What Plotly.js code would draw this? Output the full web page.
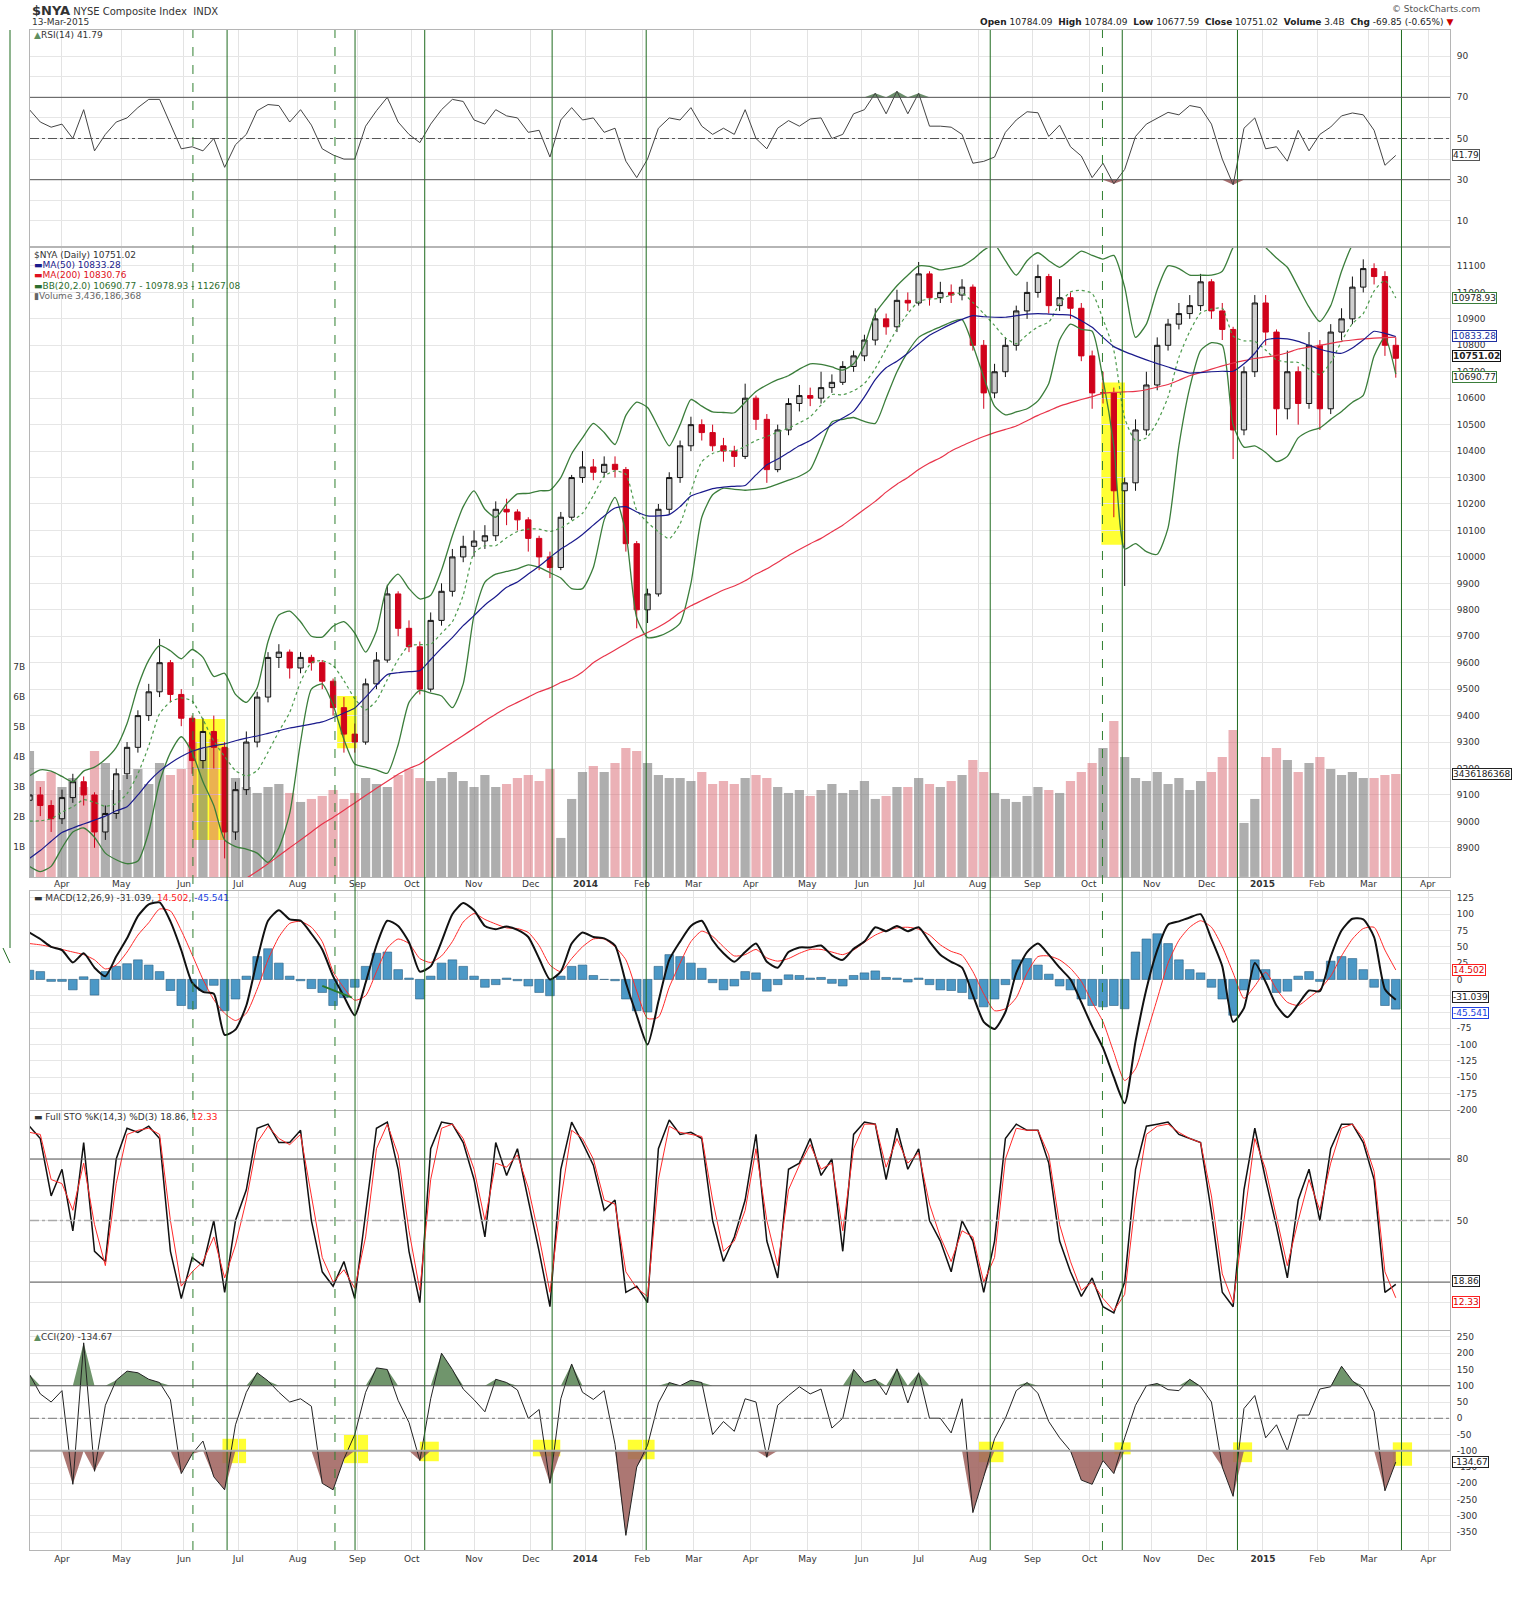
<!DOCTYPE html>
<html><head><meta charset="utf-8">
<script src="https://cdn.plot.ly/plotly-3.0.1.min.js"></script>
<style>html,body{margin:0;padding:0;background:#fff}#chart{width:1532px;height:1600px}</style>
</head><body><div id="chart"></div>
<script>
// ---------- DATA (one sample every 4 sessions; day 0 = 1 Apr 2013) ----------
const START_DAY = -12, STEP = 4;
const monthStarts = [0,22,45,65,87,109,129,152,173,193,214,233,254,275,295,316,338,358,379,402,422,443,463,482,504];
const monthLabels = ['Apr','May','Jun','Jul','Aug','Sep','Oct','Nov','Dec','<b>2014</b>','Feb','Mar','Apr','May','Jun','Jul','Aug','Sep','Oct','Nov','Dec','<b>2015</b>','Feb','Mar','Apr'];
const firstOpen = 9080;
const close = [
9100,9060,9010,9090,9150,9100,8960,9030,9180,9280,
9400,9490,9600,9480,9390,9230,9340,9280,8960,9120,
9300,9470,9620,9640,9580,9620,9600,9530,9430,9330,
9300,9520,9610,9860,9730,9660,9500,9760,9870,10000,
10040,10060,10080,10180,10170,10140,10070,10000,9960,10150,
10300,10340,10320,10350,10330,10050,9800,9860,10180,10300,
10420,10500,10470,10420,10400,10380,10600,10520,10330,10480,
10580,10610,10600,10640,10660,10720,10760,10820,10900,10870,
10970,10960,11070,10980,11000,10990,11020,10800,10620,10700,
10800,10930,11000,11060,10950,10980,10940,10760,10620,10620,
10250,10280,10480,10650,10800,10880,10920,10950,11040,10930,
10860,10480,10700,10960,10850,10560,10700,10580,10800,10560,
10850,10900,11020,11090,11060,10800,10751.02];
const high = [
9150,9130,9080,9120,9180,9170,9110,9060,9200,9300,
9420,9520,9690,9610,9500,9400,9390,9400,9300,9150,
9340,9490,9640,9670,9650,9640,9630,9610,9540,9470,
9370,9540,9640,9895,9870,9760,9680,9790,9900,10030,
10080,10100,10120,10210,10220,10180,10150,10080,10020,10170,
10310,10400,10370,10380,10380,10340,10060,9880,10200,10320,
10440,10530,10520,10500,10450,10420,10655,10610,10540,10500,
10600,10650,10640,10700,10690,10740,10780,10840,10940,10920,
11010,11000,11115,11080,11040,11030,11050,11030,10820,10730,
10830,10950,11040,11105,11070,11050,11000,10960,10780,10700,
10640,10300,10520,10700,10830,10900,10960,10990,11070,11050,
10960,10870,10720,10990,10990,10860,10780,10720,10850,10820,
10880,10940,11060,11125,11110,11080,10830];
const low = [
9040,9020,8960,8990,9070,9060,8900,8930,9010,9160,
9260,9380,9470,9450,9360,9180,9200,9200,8860,8930,
9100,9280,9450,9580,9540,9560,9570,9500,9400,9260,
9260,9290,9500,9600,9700,9640,9480,9490,9740,9850,
9980,10000,10030,10060,10120,10100,10020,9950,9920,9950,
10140,10280,10290,10300,10300,10020,9730,9750,9850,10160,
10280,10400,10440,10400,10360,10340,10370,10480,10280,10320,
10460,10550,10570,10580,10620,10650,10700,10740,10800,10840,
10850,10930,10950,10950,10960,10960,10970,10780,10560,10600,
10680,10780,10900,10980,10920,10930,10900,10740,10560,10580,
10150,9890,10250,10460,10630,10780,10860,10900,10930,10900,
10820,10370,10460,10680,10800,10460,10520,10500,10560,10480,
10540,10820,10880,11000,11030,10760,10677.59];
const volumeB = [
4.2,3.2,3.5,3.0,3.3,3.0,4.2,3.8,2.9,3.4,
3.6,3.1,3.8,3.4,3.6,4.5,4.3,4.6,4.3,3.3,
3.0,2.8,3.0,3.1,2.8,2.5,2.6,2.7,2.9,2.6,
2.8,3.3,3.1,3.0,3.4,3.6,3.3,3.2,3.3,3.5,
3.2,3.0,3.4,3.0,3.1,3.3,3.4,3.2,3.6,1.3,
2.6,3.5,3.7,3.5,3.8,4.3,4.2,3.8,3.4,3.3,
3.3,3.2,3.5,3.1,3.2,3.1,3.3,3.4,3.3,3.0,
2.8,2.9,2.7,2.9,3.1,2.8,2.9,3.2,2.6,2.7,
3.0,3.0,3.3,3.1,3.0,3.2,3.4,3.9,3.5,2.8,
2.6,2.5,2.7,3.0,2.9,2.8,3.2,3.5,3.8,4.3,
5.2,4.0,3.3,3.2,3.5,3.1,3.3,2.9,3.2,3.5,
4.0,4.9,1.8,2.6,4.0,4.3,3.9,3.5,3.8,4.0,
3.6,3.4,3.5,3.3,3.3,3.4,3.436];
const ma50 = [
8860,8890,8925,8958,8975,8990,9005,9020,9040,9055,
9100,9150,9190,9220,9245,9265,9278,9286,9293,9305,
9315,9323,9333,9343,9353,9360,9368,9376,9392,9410,
9429,9470,9515,9555,9562,9566,9570,9612,9655,9695,
9740,9778,9818,9850,9885,9905,9935,9965,9998,10030,
10055,10085,10120,10155,10185,10190,10170,10155,10155,10160,
10190,10230,10245,10258,10264,10267,10270,10310,10348,10370,
10395,10420,10440,10470,10500,10525,10550,10605,10670,10715,
10740,10770,10805,10838,10860,10880,10898,10912,10908,10906,
10906,10912,10918,10920,10918,10916,10914,10893,10868,10830,
10795,10776,10760,10745,10731,10718,10705,10695,10697,10700,
10702,10702,10730,10770,10820,10826,10824,10815,10800,10785,
10775,10770,10790,10820,10853,10845,10833.28];
const ma200 = [
null,null,null,null,null,null,null,null,null,null,
null,null,null,null,null,null,null,null,null,8755,
8785,8812,8840,8870,8900,8930,8960,8990,9015,9042,
9070,9098,9125,9152,9178,9200,9217,9245,9272,9298,
9325,9352,9380,9405,9430,9450,9470,9490,9505,9525,
9540,9565,9600,9625,9648,9672,9695,9714,9735,9760,
9790,9815,9835,9855,9875,9890,9910,9935,9955,9980,
10005,10028,10050,10070,10095,10120,10150,10180,10210,10245,
10275,10300,10330,10355,10375,10400,10420,10438,10455,10470,
10482,10495,10515,10535,10552,10570,10583,10595,10606,10618,
10622,10624,10626,10632,10642,10652,10668,10685,10697,10710,
10722,10733,10742,10750,10756,10762,10772,10786,10793,10800,
10807,10815,10820,10824,10827,10829,10830.76];
const bbUpper = [
9172,9195,9190,9170,9150,9190,9205,9235,9280,9370,
9510,9610,9665,9645,9615,9650,9620,9548,9560,9480,
9450,9505,9680,9780,9795,9755,9700,9697,9738,9755,
9712,9640,9720,9890,9935,9880,9841,9855,9950,10080,
10190,10250,10180,10150,10200,10238,10240,10250,10252,10300,
10390,10450,10505,10470,10425,10535,10585,10565,10490,10420,
10500,10595,10570,10548,10546,10545,10585,10625,10650,10670,
10685,10710,10730,10728,10718,10706,10730,10800,10920,10975,
11025,11065,11100,11098,11085,11092,11100,11125,11160,11180,
11120,11065,11120,11150,11120,11095,11125,11156,11140,11126,
11140,11020,10830,10880,11010,11100,11090,11065,11065,11065,
11080,11170,11220,11210,11170,11130,11095,11020,10944,10890,
10950,11080,11180,11230,11250,11260,11267.08];
const bbMid = [
9001,9002,9010,9035,9055,9082,9072,9057,9067,9105,
9180,9285,9407,9452,9467,9455,9385,9304,9245,9192,
9172,9192,9262,9340,9412,9527,9600,9608,9589,9532,
9464,9422,9457,9536,9612,9665,9668,9670,9712,9755,
9855,10015,10042,10042,10072,10096,10105,10105,10096,10110,
10135,10165,10232,10305,10325,10312,10177,10130,10095,10069,
10125,10247,10360,10391,10403,10400,10418,10440,10455,10472,
10487,10507,10530,10574,10614,10613,10628,10656,10712,10787,
10862,10920,10965,10975,10977,10990,10998,10962,10920,10875,
10828,10806,10840,10870,10888,10957,11002,11008,10996,10899,
10780,10525,10440,10450,10510,10605,10755,10852,10922,10937,
10940,10835,10817,10815,10782,10745,10737,10735,10710,10689,
10735,10815,10882,10920,11005,11045,10978.93];
const bbLower = [
8830,8810,8830,8900,8960,8975,8940,8880,8855,8840,
8850,8960,9150,9260,9320,9260,9150,9060,8930,8905,
8895,8880,8845,8900,9030,9300,9500,9520,9440,9310,
9217,9205,9195,9182,9290,9450,9495,9485,9474,9430,
9520,9780,9905,9935,9945,9955,9970,9960,9940,9920,
9880,9880,9960,10140,10225,10090,9770,9695,9700,9718,
9750,9900,10150,10235,10260,10255,10252,10255,10261,10275,
10290,10305,10330,10420,10510,10520,10527,10512,10505,10600,
10700,10775,10830,10852,10870,10888,10897,10800,10680,10570,
10537,10548,10560,10590,10656,10820,10880,10860,10853,10672,
10420,10030,10050,10020,10010,10110,10420,10640,10780,10810,
10800,10500,10415,10420,10395,10360,10380,10450,10475,10488,
10520,10550,10585,10611,10760,10830,10690.77];
const rsi = [
64,58,55.5,57,50,64,44,52,58,60,
65,69,69,57,45,46,44,50,36,47,
52,63.5,66.5,66,58,64,56.5,45,42,40,
40,56,63.5,70,58,52,48,57,64,69,
68,59,57,64,61,60,53,54,41,59,
65,59,60,53,55,39,31,40,55,60,
59,65,56,52,55,52,64,50,45,55,
58.7,56,59.5,60,50,52,62,64,72,62,
73,62,72,56,56,55.5,52,38,38.9,41,
53,59,63,62.5,51,56.5,46,41.5,31,38,
28,35,51,57,60,62.7,61.5,66,65,57,
40,27.5,55,60,45,46,39,54,44,52,
55.6,61,62.4,61.5,54,37,41.79];
const macd = [
72,62,50,45,26,40,18,5,35,63,
97,115,118,89,45,-5,-19,-22,-85,-77,
-40,30,90,106,92,90,70,46,5,-26,
-55,-5,52,90,82,57,12,20,58,100,
117,106,82,77,81,76,65,32,0,12,
55,72,65,63,52,-5,-55,-100,-34,30,
58,82,90,60,40,27,42,55,27,18,
42,49,49,52,37,30,47,58,80,74,
82,74,80,58,38,27,18,-24,-65,-76,
-50,10,42,55,38,18,0,-35,-72,-105,
-150,-190,-95,-15,45,84,89,95,100,62,
20,-65,-44,25,-4,-40,-58,-38,-17,-18,
35,75,93,92,65,-15,-31.039];
const macdSignal = [
55,53,50,46,42,38,30,16,22,42,
68,87,108,105,75,38,0,-31,-52,-63,
-52,-15,30,65,86,89,80,58,12,-13,
-32,-25,12,48,62,55,32,26,36,58,
88,101,92,85,79,78,72,52,22,12,
32,50,62,62,50,30,-18,-60,-58,-12,
25,58,74,66,50,36,38,46,33,28,
32,40,46,46,42,38,45,57,68,75,
79,80,77,68,53,43,37,12,-22,-48,
-45,-28,10,35,36,30,17,-3,-35,-65,
-112,-155,-137,-85,-30,25,60,80,90,80,
50,10,-29,-10,11,-15,-35,-40,-28,-15,
5,36,62,78,80,45,14.502];
const macdHist = [
14,12,-3,-3,-16,4,-24,12,20,24,
30,22,12,-17,-40,-45,-17,-9,-48,-30,
5,35,47,25,5,-2,-14,-20,-40,-28,
-12,20,40,42,15,2,-30,5,25,30,
20,5,-12,-8,2,-2,-10,-20,-25,5,
20,22,6,0,-2,-30,-48,-50,20,38,
35,25,17,-5,-16,-10,12,10,-18,-8,
7,6,2,3,-6,-10,6,10,13,3,
2,-4,2,-8,-16,-17,-20,-30,-42,-30,
-8,30,32,22,8,-10,-16,-30,-40,-42,
-40,-45,42,62,70,55,30,15,10,-12,
-30,-55,-16,30,15,-20,-18,5,12,-3,
28,35,32,15,-12,-40,-45.541];
const stoK = [
96,90,62,75,45,88,35,30,80,95,
93,96,90,35,12,32,28,50,15,50,
65,95,97,88,88,94,50,25,18,30,
12,55,95,98,75,35,10,85,98,97,
88,70,42,88,72,85,60,35,8,75,
98,88,77,55,60,15,18,10,85,99,
92,93,90,50,30,42,60,92,40,22,
75,78,90,72,80,35,92,98,97,70,
95,75,85,50,40,25,50,40,15,40,
90,97,94,94,78,40,25,13,22,8,
5,20,75,96,97,98,92,90,88,54,
15,8,65,95,70,47,22,60,75,50,
85,97,97,88,70,15,18.86];
const stoD = [
93,92,70,68,55,78,48,28,68,92,
94,95,92,50,18,25,30,42,22,38,
60,88,96,90,87,92,62,32,20,26,
17,42,85,97,82,45,16,70,95,97,
90,75,50,78,76,82,66,42,15,60,
94,90,80,60,58,25,17,13,70,96,
93,92,91,60,35,40,55,85,50,28,
65,77,87,75,78,45,85,97,97,76,
90,78,83,58,42,30,45,42,20,32,
80,95,94,94,82,48,30,16,20,12,
6,14,60,92,96,97,93,90,88,62,
24,10,50,90,75,52,28,50,70,55,
78,95,97,90,74,25,12.33];
const cci = [
135,75,50,85,-203,232,-163,40,117,145,
140,120,110,57,-170,-110,-70,-180,-220,-20,
80,140,115,80,50,60,37,-200,-220,-125,
-50,80,155,150,55,-13,-130,60,200,150,
90,57,20,120,110,87,0,27,-200,60,
167,80,58,85,-80,-360,-150,-83,47,110,
100,117,110,-50,-10,-40,60,50,-120,40,
70,97,75,90,-30,0,150,110,120,72,
152,47,140,0,0,-45,60,-290,-180,-63,
0,85,110,77,-10,-60,-100,-190,-203,-130,
-170,-60,40,100,107,88,85,120,97,50,
-150,-240,30,70,-60,-20,-100,10,10,90,
97,160,115,90,20,-223,-134.67];
// marked sessions (green verticals) and highlight boxes [day0, day1, low, high]
const solidMarks = [60.9,108.1,133.8,180.8,215.5,342.4,391.1,433.6,494.1];
const dashedMarks = [48.3,100.7,383.8];
const priceBoxes = [[48.3,60.2,8930,9387],[101.5,108.7,9277,9474],[383.4,392.1,10046,10659]];
const cciBoxes = [[59.2,67.9,-138,-63],[104,112.9,-138,-51],[132,139,-132,-72],[173.7,183.8,-117,-66],[208.7,218.6,-126,-66],[338.2,347.3,-135,-72],[388.2,394.2,-111,-74],[432,439,-135,-74],[490.9,498,-146,-74]];
// tick labels
const priceTicks = [8900,9000,9100,9200,9300,9400,9500,9600,9700,9800,9900,10000,10100,10200,10300,10400,10500,10600,10700,10800,10900,11000,11100];
const volTicks = [1,2,3,4,5,6,7];
const rsiTicks = [10,20,30,40,50,60,70,80,90];
const rsiTickText = ['10','','30','','50','','70','','90'];
const macdTicks = [-200,-175,-150,-125,-100,-75,-50,-25,0,25,50,75,100,125];
const stoTicks = [10,20,30,40,50,60,70,80,90];
const stoTickText = ['','','','','50','','','80',''];
const cciTicks = [-350,-300,-250,-200,-150,-100,-50,0,50,100,150,200,250];

// ---------- BUILD ----------
const day = close.map((_, i) => START_DAY + i * STEP);
const open = close.map((c, i) => i === 0 ? firstOpen : close[i - 1]);
const volColors = close.map((c, i) => c >= open[i] ? 'rgba(120,120,120,0.6)' : 'rgba(215,100,110,0.5)');
const X0 = 30, PW = 1420, PB = 1550, PH = 1520;
const px = v => (v - X0) / PW;
const py = v => (PB - v) / PH;
const FONT = 'DejaVu Sans, Verdana, sans-serif';
const GREEN = '#3a7d3a';
const sm = {shape:'spline', smoothing:0.6};

const traces = [
  {type:'bar', x:day, y:volumeB, xaxis:'x', yaxis:'y2', width:3.4, marker:{color:volColors, line:{width:0}}, hoverinfo:'skip'},
  {type:'scatter', mode:'lines', x:day, y:bbUpper, xaxis:'x', yaxis:'y3', line:Object.assign({color:GREEN, width:1.3}, sm), hoverinfo:'skip'},
  {type:'scatter', mode:'lines', x:day, y:bbLower, xaxis:'x', yaxis:'y3', line:Object.assign({color:GREEN, width:1.3}, sm), hoverinfo:'skip'},
  {type:'scatter', mode:'lines', x:day, y:bbMid, xaxis:'x', yaxis:'y3', line:Object.assign({color:'#4c9a4c', width:1.2, dash:'dot'}, sm), hoverinfo:'skip'},
  {type:'scatter', mode:'lines', x:day, y:ma200, xaxis:'x', yaxis:'y3', line:Object.assign({color:'#e8344a', width:1.2}, sm), hoverinfo:'skip'},
  {type:'scatter', mode:'lines', x:day, y:ma50, xaxis:'x', yaxis:'y3', line:Object.assign({color:'#1a1a8c', width:1.2}, sm), hoverinfo:'skip'},
  {type:'candlestick', x:day, open:open, high:high, low:low, close:close, xaxis:'x', yaxis:'y3', whiskerwidth:0,
    increasing:{line:{color:'#111', width:1}, fillcolor:'#cfcfcf'},
    decreasing:{line:{color:'#d0021b', width:1}, fillcolor:'#d0021b'}, hoverinfo:'skip'},
  // RSI
  {type:'scatter', mode:'lines', x:day, y:rsi.map(() => 70), yaxis:'y', line:{width:0}, hoverinfo:'skip'},
  {type:'scatter', mode:'lines', x:day, y:rsi.map(v => Math.max(v, 70)), yaxis:'y', fill:'tonexty', fillcolor:'#6b8f6b', line:{width:0}, hoverinfo:'skip'},
  {type:'scatter', mode:'lines', x:day, y:rsi.map(() => 30), yaxis:'y', line:{width:0}, hoverinfo:'skip'},
  {type:'scatter', mode:'lines', x:day, y:rsi.map(v => Math.min(v, 30)), yaxis:'y', fill:'tonexty', fillcolor:'#a86f6f', line:{width:0}, hoverinfo:'skip'},
  {type:'scatter', mode:'lines', x:day, y:rsi, yaxis:'y', line:{color:'#444', width:1}, hoverinfo:'skip'},
  // MACD
  {type:'bar', x:day, y:macdHist, yaxis:'y4', width:3.2, marker:{color:'#4b98c6', line:{color:'#2a5f83', width:0.6}}, hoverinfo:'skip'},
  {type:'scatter', mode:'lines', x:day, y:macdSignal, yaxis:'y4', line:Object.assign({color:'#ff2a2a', width:1}, sm), hoverinfo:'skip'},
  {type:'scatter', mode:'lines', x:day, y:macd, yaxis:'y4', line:Object.assign({color:'#111', width:2}, sm), hoverinfo:'skip'},
  // STO
  {type:'scatter', mode:'lines', x:day, y:stoK, yaxis:'y5', line:{color:'#111', width:1.5}, hoverinfo:'skip'},
  {type:'scatter', mode:'lines', x:day, y:stoD, yaxis:'y5', line:{color:'#ff2a2a', width:1}, hoverinfo:'skip'},
  // CCI
  {type:'scatter', mode:'lines', x:day, y:cci.map(() => 100), yaxis:'y6', line:{width:0}, hoverinfo:'skip'},
  {type:'scatter', mode:'lines', x:day, y:cci.map(v => Math.max(v, 100)), yaxis:'y6', fill:'tonexty', fillcolor:'rgba(100,140,96,0.92)', line:{width:0}, hoverinfo:'skip'},
  {type:'scatter', mode:'lines', x:day, y:cci.map(() => -100), yaxis:'y6', line:{width:0}, hoverinfo:'skip'},
  {type:'scatter', mode:'lines', x:day, y:cci.map(v => Math.min(v, -100)), yaxis:'y6', fill:'tonexty', fillcolor:'rgba(160,100,96,0.88)', line:{width:0}, hoverinfo:'skip'},
  {type:'scatter', mode:'lines', x:day, y:cci, yaxis:'y6', line:{color:'#222', width:1}, hoverinfo:'skip'}
];

const shapes = [];
solidMarks.forEach(d => shapes.push({type:'line', xref:'x', yref:'paper', x0:d, x1:d, y0:0, y1:1, line:{color:'#1f6b1f', width:1}, layer:'above'}));
dashedMarks.forEach(d => shapes.push({type:'line', xref:'x', yref:'paper', x0:d, x1:d, y0:0, y1:1, line:{color:'#2f7f2f', width:1, dash:'dash'}, layer:'above'}));
priceBoxes.forEach(b => shapes.push({type:'rect', xref:'x', yref:'y3', x0:b[0], x1:b[1], y0:b[2], y1:b[3], fillcolor:'#ffff33', line:{width:0}, layer:'below'}));
cciBoxes.forEach(b => shapes.push({type:'rect', xref:'x', yref:'y6', x0:b[0], x1:b[1], y0:b[2], y1:b[3], fillcolor:'#ffff33', line:{width:0}, layer:'below'}));
const hline = (ax, v, color, width, dash) => shapes.push({type:'line', xref:'paper', yref:ax, x0:0, x1:1, y0:v, y1:v, line:{color, width, dash}, layer:'above'});
hline('y', 70, '#555', 1, 'solid'); hline('y', 30, '#555', 1, 'solid'); hline('y', 50, '#555', 1, 'dashdot');
hline('y5', 80, '#555', 1, 'solid'); hline('y5', 20, '#555', 1, 'solid'); hline('y5', 50, '#aaa', 1.5, 'dashdot');
hline('y6', 100, '#555', 1, 'solid'); hline('y6', -100, '#aaa', 2, 'solid'); hline('y6', 0, '#777', 1, 'dashdot');
// hand-drawn marks
shapes.push({type:'line', xref:'x', yref:'y4', x0:96, x1:107, y0:-10, y1:-28, line:{color:'#2a7a2a', width:2}});
shapes.push({type:'line', xref:'paper', yref:'paper', x0:px(10), x1:px(10), y0:py(30), y1:py(948), line:{color:'#1f6b1f', width:1}});
shapes.push({type:'line', xref:'paper', yref:'paper', x0:px(3), x1:px(10), y0:py(948), y1:py(963), line:{color:'#1f6b1f', width:1}});

const txt = (x, y, text, o = {}) => Object.assign({xref:'paper', yref:'paper', x:px(x), y:py(y), text, showarrow:false, xanchor:'left', yanchor:'middle', font:{family:FONT, size:9, color:'#333'}}, o);
const box = (ax, v, text, color, tcolor, shift) => ({xref:'paper', yref:ax, x:px(1452), y:v, yshift:shift || 0, text, showarrow:false, xanchor:'left', yanchor:'middle', font:{family:FONT, size:9, color:tcolor || '#222'}, bgcolor:'#fff', bordercolor:color, borderwidth:1, borderpad:0});
const annotations = [
  txt(30, 10, '<span style="font-size:13px"><b>$NYA</b></span> NYSE Composite Index  INDX', {font:{family:FONT, size:10, color:'#333'}}),
  txt(30, 22, '13-Mar-2015'),
  txt(1482, 9, '© StockCharts.com', {xanchor:'right', font:{family:FONT, size:9, color:'#555'}}),
  txt(1455, 22, '<b>Open</b> 10784.09  <b>High</b> 10784.09  <b>Low</b> 10677.59  <b>Close</b> 10751.02  <b>Volume</b> 3.4B  <b>Chg</b> -69.85 (-0.65%) <span style="color:#c00">▼</span>', {xanchor:'right', font:{family:FONT, size:9, color:'#222'}}),
  txt(32, 35, '<span style="color:#5f8f5f">▲</span>RSI(14) 41.79'),
  txt(32, 255, '$NYA (Daily) 10751.02'),
  txt(32, 265, '<span style="color:#1a1a8c">▬MA(50) 10833.28</span>'),
  txt(32, 275, '<span style="color:#e01020">▬MA(200) 10830.76</span>'),
  txt(32, 286, '<span style="color:#2e6e2e">▬BB(20,2.0) 10690.77 - 10978.93 - 11267.08</span>'),
  txt(32, 296, '<span style="color:#666">▮Volume 3,436,186,368</span>'),
  txt(32, 898, '▬ MACD(12,26,9) -31.039, <span style="color:#ff2020">14.502</span>, <span style="color:#2040e0">-45.541</span>'),
  txt(32, 1117, '▬ Full STO %K(14,3) %D(3) 18.86, <span style="color:#ff2020">12.33</span>'),
  txt(32, 1337, '<span style="color:#5f8f5f">▲</span>CCI(20) -134.67'),
  box('y', 41.79, '41.79', '#555'),
  box('y3', 10978.93, '10978.93', GREEN),
  box('y3', 10833.28, '10833.28', '#2030a0', '#2030a0'),
  box('y3', 10751.02, '<b>10751.02</b>', '#111', null, 2),
  box('y3', 10690.77, '10690.77', GREEN, null, -3),
  box('y2', 3.436, '3436186368', '#222'),
  box('y4', 14.502, '14.502', '#ff2020', '#d00'),
  box('y4', -31.039, '-31.039', '#222', null, 3),
  box('y4', -45.541, '-45.541', '#2040e0', '#2040e0', -4),
  box('y5', 18.86, '18.86', '#222', null, 3),
  box('y5', 12.33, '12.33', '#ff2020', '#d00', -4),
  box('y6', -134.67, '-134.67', '#222')
];
monthStarts.forEach((d, i) => annotations.push({xref:'x', yref:'paper', x:d, y:py(884), text:monthLabels[i], showarrow:false, yanchor:'middle', font:{family:FONT, size:9, color:'#333'}}));

const yBase = {side:'right', showline:true, mirror:true, linecolor:'#b5b5b5', gridcolor:'#e6e6e6', zeroline:false, ticks:'', tickfont:{family:FONT, size:9, color:'#333'}, ticklabelstandoff:4, fixedrange:true};
const yax = (dom, range, vals, text, extra = {}) => Object.assign({}, yBase, {domain:dom, range, tickvals:vals, ticktext:text || vals.map(String)}, extra);

const layout = {
  width:1532, height:1600, margin:{l:30, r:82, t:30, b:50},
  paper_bgcolor:'#fff', plot_bgcolor:'#fff', showlegend:false, hovermode:false, barmode:'overlay',
  font:{family:FONT, size:9, color:'#333'},
  xaxis:{domain:[0,1], range:[-11.8,512], anchor:'y6', tickvals:monthStarts, ticktext:monthLabels, tickangle:0,
    showgrid:true, gridcolor:'#e3e3e3', showline:true, mirror:'all', linecolor:'#b5b5b5', ticks:'', zeroline:false,
    tickfont:{family:FONT, size:9, color:'#333'}, rangeslider:{visible:false}, fixedrange:true},
  yaxis: yax([0.8579,1], [-2.2,102.7], rsiTicks, rsiTickText),
  yaxis2: yax([0.4428,0.8566], [0,20.97], volTicks, volTicks.map(v => v + 'B'), {side:'left', showgrid:false, ticklabelstandoff:2}),
  yaxis3: yax(undefined, [8790,11168], priceTicks, null, {overlaying:'y2'}),
  yaxis4: yax([0.2895,0.4336], [-200.2,135.7], macdTicks),
  yaxis5: yax([0.1447,0.2888], [-3.4,103.4], stoTicks, stoTickText),
  yaxis6: yax([0,0.1441], [-405,268.5], cciTicks),
  shapes, annotations
};
delete layout.yaxis3.domain;
Plotly.newPlot('chart', traces, layout, {displayModeBar:false, staticPlot:true});
</script></body></html>
